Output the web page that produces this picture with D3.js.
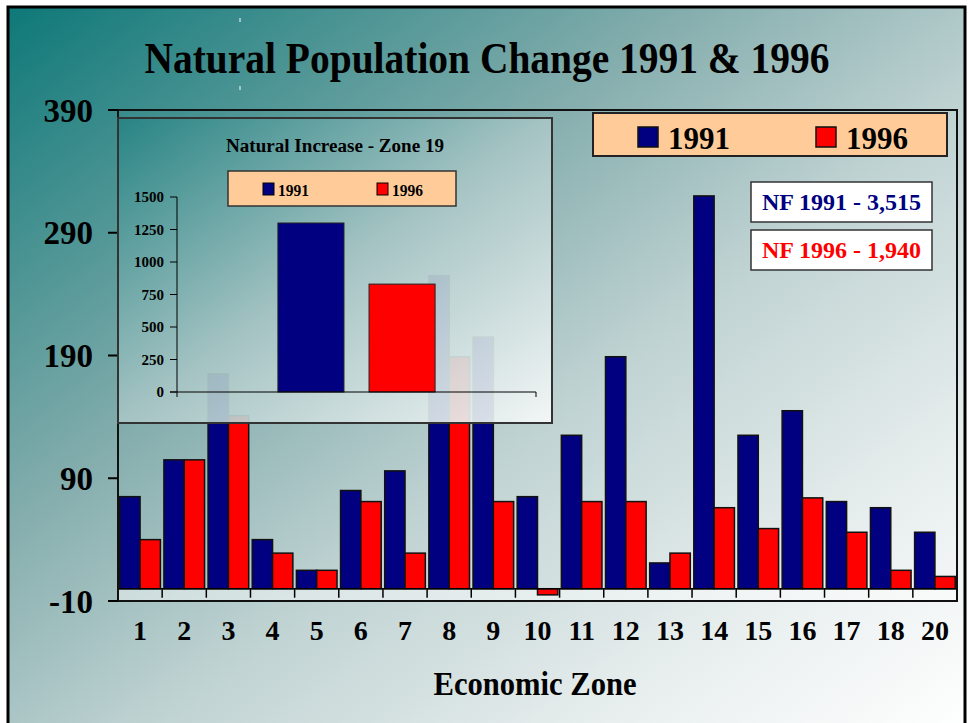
<!DOCTYPE html>
<html>
<head>
<meta charset="utf-8">
<script src="https://cdn.jsdelivr.net/npm/d3@7"></script>
<style>
  html, body { margin: 0; padding: 0; background: #fff; }
  svg { display: block; }
  text { font-family: "Liberation Serif", "Times New Roman", serif; font-weight: bold; }
</style>
</head>
<body>
<svg id="chart" width="969" height="723"></svg>
<script>
// main chart data
const zones = ['1', '2', '3', '4', '5', '6', '7', '8', '9', '10', '11', '12', '13', '14', '15', '16', '17', '18', '20'];
const v1991 = [75, 105, 175, 40, 15, 80, 96, 255, 205, 75, 125, 189, 21, 320, 125, 145, 71, 66, 46];
const v1996 = [40, 105, 141, 29, 15, 71, 29, 189, 71, -5, 71, 71, 29, 66, 49, 74, 46, 15, 10];
const yTicks = [-10, 90, 190, 290, 390];
const years = ['1991', '1996'];

// inset (zone 19)
const insetCats = ['19'];
const inset19 = [1300, 830];
const insetTicks = [0, 250, 500, 750, 1000, 1250, 1500];

const notes = ['NF 1991 - 3,515', 'NF 1996 - 1,940'];

const colors = { '1991': '#000080', '1996': '#ff0000' };

const svg = d3.select('#chart');
const defs = svg.append('defs');

const bg = defs.append('linearGradient').attr('id', 'bg')
  .attr('x1', 0).attr('y1', 0).attr('x2', 1).attr('y2', 1);
[[0, '#0e7878'], [0.36, '#86aeae'], [0.56, '#bfd2d2'], [0.8, '#e8eeee'], [1, '#ffffff']]
  .forEach(s => bg.append('stop').attr('offset', s[0]).attr('stop-color', s[1]));

const ig = defs.append('linearGradient').attr('id', 'insetbg')
  .attr('x1', 0).attr('y1', 0).attr('x2', 1).attr('y2', 1);
[[0, '#268383'], [0.5, '#a8c5c5'], [1, '#f7f9f9']]
  .forEach(s => ig.append('stop').attr('offset', s[0]).attr('stop-color', s[1]));

// slide background + border
svg.append('rect').attr('x', 8).attr('y', 7).attr('width', 957).attr('height', 730)
  .attr('fill', 'url(#bg)').attr('stroke', '#000').attr('stroke-width', 3);

svg.append('text')
  .attr('x', 487).attr('y', 73)
  .attr('text-anchor', 'middle')
  .attr('font-size', 44)
  .attr('textLength', 685).attr('lengthAdjust', 'spacingAndGlyphs')
  .text('Natural Population Change 1991 & 1996');

svg.append('line').attr('x1', 240).attr('x2', 240).attr('y1', 18).attr('y2', 22).attr('stroke', '#fff');
svg.append('line').attr('x1', 240).attr('x2', 240).attr('y1', 86).attr('y2', 90).attr('stroke', '#fff');

// ---- main chart ----
const plotL = 118, plotR = 957, plotT = 110, plotB = 601;

const x = d3.scaleBand().domain(zones).range([plotL, plotR]).paddingInner(0.08).paddingOuter(0.04);
const x1 = d3.scaleBand().domain(years).range([0, x.bandwidth()]);
const y = d3.scaleLinear().domain([-10, 390]).range([plotB, plotT]);

svg.append('rect')
  .attr('x', plotL).attr('y', y(0)).attr('width', plotR - plotL).attr('height', plotB - y(0))
  .attr('fill', '#fff').attr('fill-opacity', 0.45);

const rows = zones.map((z, i) => ({ zone: z, values: [{ k: '1991', v: v1991[i] }, { k: '1996', v: v1996[i] }] }));

svg.append('g')
  .selectAll('g')
  .data(rows)
  .enter()
  .append('g')
  .attr('transform', d => `translate(${x(d.zone)},0)`)
  .selectAll('rect')
  .data(d => d.values)
  .enter()
  .append('rect')
  .attr('x', d => x1(d.k))
  .attr('width', x1.bandwidth())
  .attr('y', d => y(Math.max(0, d.v)))
  .attr('height', d => Math.abs(y(d.v) - y(0)))
  .attr('fill', d => colors[d.k])
  .attr('stroke', '#111')
  .attr('stroke-width', 1.5);

// zero line with category ticks
svg.append('line')
  .attr('x1', plotL).attr('x2', plotR).attr('y1', y(0)).attr('y2', y(0))
  .attr('stroke', '#000').attr('stroke-width', 1.5);
svg.append('g')
  .selectAll('line')
  .data(zones.slice(1))
  .enter()
  .append('line')
  .attr('x1', d => x(d) - x.step() * x.paddingInner() / 2)
  .attr('x2', d => x(d) - x.step() * x.paddingInner() / 2)
  .attr('y1', y(0)).attr('y2', y(0) + 9)
  .attr('stroke', '#000').attr('stroke-width', 1.5);

// frame
svg.append('rect')
  .attr('x', plotL).attr('y', plotT).attr('width', plotR - plotL).attr('height', plotB - plotT)
  .attr('fill', 'none').attr('stroke', '#111').attr('stroke-width', 2);

// y axis
const yAxis = svg.append('g');
yAxis.selectAll('line')
  .data(yTicks)
  .enter()
  .append('line')
  .attr('x1', plotL - 10).attr('x2', plotL)
  .attr('y1', d => y(d)).attr('y2', d => y(d))
  .attr('stroke', '#000').attr('stroke-width', 2);
yAxis.selectAll('text')
  .data(yTicks)
  .enter()
  .append('text')
  .attr('x', 93)
  .attr('y', d => y(d))
  .attr('dy', '0.35em')
  .attr('text-anchor', 'end')
  .attr('font-size', 33)
  .text(d => d);

// x labels
svg.append('g')
  .selectAll('text')
  .data(zones)
  .enter()
  .append('text')
  .attr('x', d => x(d) + x.bandwidth() / 2)
  .attr('y', 640)
  .attr('text-anchor', 'middle')
  .attr('font-size', 28)
  .text(d => d);

svg.append('text')
  .attr('x', 535).attr('y', 695)
  .attr('text-anchor', 'middle')
  .attr('font-size', 34)
  .attr('textLength', 203).attr('lengthAdjust', 'spacingAndGlyphs')
  .text('Economic Zone');

// ---- inset: zone 19 ----
const ins = svg.append('g');
ins.append('rect')
  .attr('x', 118).attr('y', 118).attr('width', 434).attr('height', 305)
  .attr('fill', 'url(#insetbg)').attr('fill-opacity', 0.92)
  .attr('stroke', '#333').attr('stroke-width', 2);

ins.append('text')
  .attr('x', 335).attr('y', 152)
  .attr('text-anchor', 'middle')
  .attr('font-size', 18)
  .attr('textLength', 218).attr('lengthAdjust', 'spacingAndGlyphs')
  .text('Natural Increase - Zone 19');

const ix0 = d3.scaleBand().domain(insetCats).range([177, 536]).padding(0.391);
const ix1 = d3.scaleBand().domain(years).range([0, ix0.bandwidth()]).paddingInner(0.275);
const iy = d3.scaleLinear().domain([0, 1500]).range([392, 197]);

ins.selectAll('rect.ibar')
  .data(years.map((k, i) => ({ k: k, v: inset19[i] })))
  .enter()
  .append('rect')
  .attr('class', 'ibar')
  .attr('x', d => ix0('19') + ix1(d.k))
  .attr('width', ix1.bandwidth())
  .attr('y', d => iy(d.v))
  .attr('height', d => iy(0) - iy(d.v))
  .attr('fill', d => colors[d.k])
  .attr('stroke', '#222').attr('stroke-width', 1);

ins.append('line').attr('x1', 177).attr('x2', 177).attr('y1', iy(1500)).attr('y2', 397)
  .attr('stroke', '#000').attr('stroke-width', 1);
ins.append('line').attr('x1', 170).attr('x2', 536).attr('y1', iy(0)).attr('y2', iy(0))
  .attr('stroke', '#000').attr('stroke-width', 1);
ins.append('line').attr('x1', 536).attr('x2', 536).attr('y1', iy(0)).attr('y2', 397)
  .attr('stroke', '#000').attr('stroke-width', 1);
ins.selectAll('line.itick')
  .data(insetTicks)
  .enter()
  .append('line')
  .attr('class', 'itick')
  .attr('x1', 170).attr('x2', 177)
  .attr('y1', d => iy(d)).attr('y2', d => iy(d))
  .attr('stroke', '#000').attr('stroke-width', 1);
ins.selectAll('text.ilabel')
  .data(insetTicks)
  .enter()
  .append('text')
  .attr('class', 'ilabel')
  .attr('x', 164)
  .attr('y', d => iy(d))
  .attr('dy', '0.35em')
  .attr('text-anchor', 'end')
  .attr('font-size', 15)
  .text(d => d);

// inset legend
ins.append('rect')
  .attr('x', 228).attr('y', 171).attr('width', 228).attr('height', 35)
  .attr('fill', '#ffcc99').attr('stroke', '#333').attr('stroke-width', 1.5);
const ilg = ins.selectAll('g.ilg')
  .data(years)
  .enter()
  .append('g')
  .attr('class', 'ilg')
  .attr('transform', (d, i) => `translate(${[263, 377][i]},183)`);
ilg.append('rect').attr('width', 11).attr('height', 12)
  .attr('fill', d => colors[d]).attr('stroke', '#000').attr('stroke-width', 1);
ilg.append('text').attr('x', 15).attr('y', 13).attr('font-size', 16)
  .attr('textLength', 31).attr('lengthAdjust', 'spacingAndGlyphs')
  .text(d => d);

// ---- main legend ----
svg.append('rect')
  .attr('x', 593).attr('y', 113).attr('width', 354).attr('height', 43)
  .attr('fill', '#ffcc99').attr('stroke', '#222').attr('stroke-width', 2);
const lg = svg.selectAll('g.lg')
  .data(years)
  .enter()
  .append('g')
  .attr('class', 'lg')
  .attr('transform', (d, i) => `translate(${[638, 816][i]},127)`);
lg.append('rect').attr('width', 20).attr('height', 20)
  .attr('fill', d => colors[d]).attr('stroke', '#111').attr('stroke-width', 1.5);
lg.append('text').attr('x', 30).attr('y', 22).attr('font-size', 32)
  .attr('textLength', 62).attr('lengthAdjust', 'spacingAndGlyphs')
  .text(d => d);

// NF note boxes
const nb = svg.selectAll('g.note')
  .data(notes)
  .enter()
  .append('g')
  .attr('class', 'note')
  .attr('transform', (d, i) => `translate(751,${[182, 230][i]})`);
nb.append('rect').attr('width', 181).attr('height', 40)
  .attr('fill', '#fff').attr('stroke', '#333').attr('stroke-width', 1.5);
nb.append('text')
  .attr('x', 90.5).attr('y', 28)
  .attr('text-anchor', 'middle')
  .attr('font-size', 23)
  .attr('textLength', 159).attr('lengthAdjust', 'spacingAndGlyphs')
  .attr('fill', (d, i) => colors[years[i]])
  .text(d => d);
</script>
</body>
</html>
